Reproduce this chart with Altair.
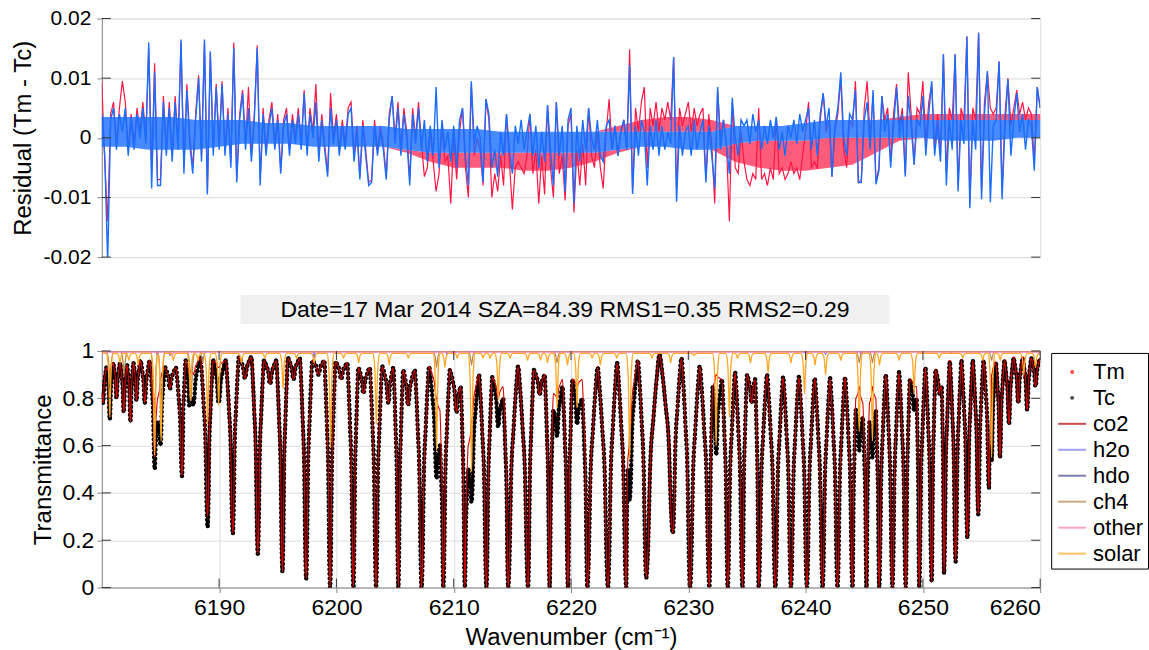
import altair as alt
import pandas as pd

FONT = "Liberation Sans"
X_MIN, X_MAX = 6180, 6260

# ---------------- top panel: residuals (values in units of 1e-3) ----------------
RES_START = 6180.0
RES_STEP = 0.25
res_red_milli = [
    9.3, -4, -14, 4, 6, -1, 5, 9.5, 6, -2,
    4, -1, 5, 1, 6, 0, 15, -6, 12.5, -7,
    -7, 7, -2, 6, -3, 7, -1, 16, -5, 9,
    0, -5, 4, 10.5, -3, 16, -9, 14, -2, 9,
    -1, 9.5, -2, 5, -4, 16, -7, 4, 8, -1,
    8.5, -3, 4, 15.5, -7, 5, -2, 3, 6, -1,
    4, -5.5, 3, 5, -2, 4, 0, 5, -1, 8,
    -2, 5, 1, 9, -3, 4, -1, -6, 7.5, 0,
    4, -2, 3, -1, 5, 6, -3, 2, -6.5, 3,
    -2, -7.5, -7, 3, -2, 2, -1, -6.5, 4, 7,
    0, 6, -2, 5, 1, -7, 5, 0, 6, -1,
    -6.5, -5, 1, -4, -9, -6, 2, -4, -3, -11,
    0, -7, 1, 5, -5, -10, 9, -3, 0, -2,
    -8, 6.5, 3, -10, -6, -9, -3, -8, 4, -4,
    -12, -5, -4, -5, -6, -3, 4, -6, -2, -11,
    -3, -9.5, 5.5, -5, -10, 6, -6, -3, -10.5, 2,
    4, -12.5, -2, -8, -1, -8, 5, -3, -5, 1,
    -5, -8.5, 1, 6.5, -2, 2, -3, 1, 3, -2,
    14.8, -9, 5, 1, 6, 8.5, -5, 5, 2, 6,
    1, 5, 3, 6, 3, 13.5, -9, 5, 2, 4,
    6, 1, 5, 2, 4, 5, -7, 4, -1, -11,
    8, 0, 3, -1, -14, 6, -5, -6, 1, -4,
    -7, -8, -6, -7, 5, -7, -6, -8, -5, -7,
    3.5, -6, -5, -7, -6, -4, -6, -5, -7, -3,
    1, 6, -5, -4, -5, 3, 7.5, 1, 3, -6.5,
    1, 4, 10, -2, -5, 3, 2, 9.5, -7.5, -7,
    5, 9.5, 0, 7, -7.5, -5, 7, 3, 5, -4,
    4, 9, 2, 5, -6, 11, 4, -4.5, 5, 4,
    9.5, -1, 6, 9, -2, 4, -3, 14, -6, 5,
    3, 14, -8, 5, 3, 17, -11, 5, 3, 17.6,
    -9, 6, 11, 5, 4, 5, 12.8, -9, 4, 10,
    2, 5, 8, 4, 6, 3, 5, 4, -4, 8.5,
    5,
]
res_blue_milli = [
    4, -3, -21, 3, 5, -2, 4, 1, 5, -3,
    3, -2, 4, 0, 5, -1, 16, -8.5, 11, -8,
    -8, 6, -3, 5, -4, 6, -2, 16.5, -6, 8,
    -1, -6, 3, 10, -4, 16.5, -9.5, 14.5, -3, 8.5,
    -2, 9, -3, 4, -5, 15, -7.5, 3, 7.5, -2,
    5, -4, 3, 15, -8, 4, -3, 2, 5, -2,
    3, -6, 2, 4, -3, 3, -1, 4, -2, 7.5,
    -3, 4, 0, 6, -4, 3, -2, -6.5, 5, -1,
    3, -3, 2, -2, 4, 5, -4, 1, -7, 2,
    -3, -8, -7.5, 2, -3, 1, -2, -7, 3, 7,
    -1, 5, -3, 4, 0, -8, 4, -1, 5, -2,
    3, -4, 2, -3, 8.5, -5, 3, -2, 1, -4,
    2, -5, 3, 5, -3, -8, 9.5, -1, 2, 0,
    -7.5, 6.5, 4, -5, -2, -6.5, 1, -3, 4, -2,
    -6, 2, -1, 3, -2, 1, 4, -3, 2, -5,
    1, -4, 5.5, -2, -8, 6, -3, 2, -9, 3,
    5, -11, 2, -4, 3, -2, 5, 0, -2, 3,
    -3, -4, 2, 3, -2, 2, -3, 1, 3, -2,
    12.2, -9.4, 2, -3, 3, 1, -8, 2, -2, 3,
    -3, 2, -2, 1, -1, 13.5, -10.7, 2, -3, 1,
    2, -3, 3, -2, 1, 3, -7.5, 2, -3, -8.5,
    8.5, -2, 3, -1, -6, 6.7, 0, -3, 3, 2,
    3, -1, 4, 1, 3, -2, 2, -1, 3, 0,
    3.5, -2, 1, -3, 2, 0, 3, -1, 4, 1,
    3, 5, -2, 3, -3, 4, 7.5, 2, 5, -6.5,
    2, 5, 11, 0, -3, 4, 3, 8, -7.5, -7.5,
    3, 6, -2, 8, -7.8, -5.5, 7, 1, 4, -5,
    2, 8.5, 0, 4, -6.5, 7, 2, -4.5, 3, 2,
    7, -3, 4, 9.5, -3, 2, -4, 14, -8, 3,
    -2, 14, -9, 3, -1, 17, -11.8, 3, -2, 17.6,
    -10.3, 4, 11.2, -10.8, 2, 3, 12.8, -10.3, 2, 9.8,
    -3, 3, 7.5, 1, 4, -2, 3, 2, -5.5, 8.5,
    5,
]
# dense core of each residual trace, every 2 cm-1 (units of 1e-3)
ENV_STEP = 2.0
blue_hi_milli = [3.5, 3.5, 3.5, 3.5, 3, 3, 3, 2.5, 2.5, 2,
                 2, 2, 2, 1.5, 1.5, 1.5, 1.5, 1, 1, 1,
                 1, 1, 1, 1, 1, 1, 1, 2, 2, 2,
                 2.5, 3, 3, 3, 3, 3, 3, 3, 3, 3,
                 3]
blue_lo_milli = [-1.5, -1.5, -2, -2, -2, -1.5, -1, -1, -1, -1.5,
                 -1.5, -1.5, -1.5, -2, -2.5, -2.5, -2.5, -2.5, -2.5, -2.5,
                 -2.5, -2.5, -2, -1.5, -1.5, -2, -2, -1, -0.5, -0.5,
                 -0.5, 0, 0, 0, 0, 0, -0.5, -0.5, -0.5, 0,
                 0]
red_hi_milli = [3.5, 3.5, 3.5, 3.5, 3, 3, 3, 2.5, 2.5, 2,
                2, 2, 2, 1.5, 1.5, 1.5, 1.5, 1, 1, 1,
                1, 1, 2, 3, 3.5, 3.5, 3, 2, 2, 2,
                2.5, 3, 3, 3, 3.5, 4, 4, 4, 4, 4,
                4]
red_lo_milli = [-1.5, -1.5, -2, -2, -2, -1.5, -1, -1, -1, -1.5,
                -1.5, -1.5, -1.5, -2.5, -4, -5, -5, -5, -5.5, -5.5,
                -5, -4, -2.5, -1.5, -1.5, -2, -2, -4, -5, -5.5,
                -5.5, -5, -4.5, -2.5, -0.5, 0, -0.5, -0.5, -0.5, 0,
                0]
res_ticks = [-0.02, -0.01, 0, 0.01, 0.02]

# ---------------- bottom panel: transmittance ----------------
x_ticks = [6190, 6200, 6210, 6220, 6230, 6240, 6250, 6260]
t_ticks = [0, 0.2, 0.4, 0.6, 0.8, 1]
title_text = "Date=17 Mar 2014 SZA=84.39 RMS1=0.35 RMS2=0.29"

# absorption line centres of the measured/calculated spectrum
line_wn = [
    6180.11, 6180.68, 6181.25, 6181.87, 6182.44, 6182.95, 6183.66, 6184.51, 6185.00, 6185.80,
    6186.84, 6187.45, 6187.80, 6189.02, 6189.96, 6191.17, 6192.20, 6193.30, 6194.35, 6195.40,
    6196.34, 6197.42, 6198.47, 6199.46, 6200.40, 6201.45, 6202.30, 6203.38, 6204.43, 6205.28,
    6206.10, 6207.26, 6208.54, 6209.11, 6210.24, 6210.95, 6211.52, 6212.79, 6213.79, 6214.64,
    6216.34, 6217.33, 6218.18, 6218.81, 6219.74, 6220.51, 6221.39, 6223.15, 6224.71, 6225.00,
    6226.41, 6228.68, 6230.15, 6231.80, 6232.37, 6233.36, 6234.62, 6235.40, 6236.00, 6237.42,
    6238.75, 6240.11, 6241.45, 6242.72, 6244.00, 6244.57, 6245.19, 6245.70, 6246.27, 6247.40,
    6248.54, 6249.25, 6249.68, 6250.75, 6251.40, 6251.80, 6252.79, 6253.79, 6254.72, 6255.63,
    6255.86, 6256.57, 6257.34, 6258.13, 6258.89, 6259.60,
]
# minimum transmittance of each line: Tm (red dots) and Tc (black dots)
tm_min = [
    0.79, 0.72, 0.81, 0.75, 0.71, 0.80, 0.79, 0.52, 0.61, 0.85,
    0.48, 0.78, 0.78, 0.27, 0.79, 0.24, 0.89, 0.15, 0.87, 0.075,
    0.89, 0.045, 0.90, 0.0, 0.89, 0.0, 0.83, 0.0, 0.79, 0.0,
    0.78, 0.0, 0.47, 0.0, 0.75, 0.0, 0.37, 0.0, 0.69, 0.0,
    0.0, 0.82, 0.0, 0.65, 0.0, 0.70, 0.0, 0.0, 0.0, 0.38,
    0.045, 0.235, 0.0, 0.0, 0.57, 0.0, 0.0, 0.79, 0.0, 0.0,
    0.0, 0.0, 0.0, 0.0, 0.0, 0.59, 0.0, 0.56, 0.0, 0.0,
    0.0, 0.755, 0.0, 0.03, 0.83, 0.065, 0.115, 0.215, 0.315, 0.425,
    0.545, 0.56, 0.70, 0.79, 0.76, 0.86,
]
tc_min = [
    0.78, 0.71, 0.80, 0.74, 0.70, 0.79, 0.78, 0.50, 0.60, 0.84,
    0.47, 0.77, 0.77, 0.255, 0.78, 0.227, 0.885, 0.143, 0.86, 0.066,
    0.88, 0.038, 0.90, 0.0, 0.88, 0.0, 0.82, 0.0, 0.78, 0.0,
    0.77, 0.0, 0.46, 0.0, 0.74, 0.0, 0.36, 0.0, 0.68, 0.0,
    0.0, 0.815, 0.0, 0.64, 0.0, 0.69, 0.0, 0.0, 0.0, 0.37,
    0.04, 0.23, 0.0, 0.0, 0.56, 0.0, 0.0, 0.78, 0.0, 0.0,
    0.0, 0.0, 0.0, 0.0, 0.0, 0.58, 0.0, 0.55, 0.0, 0.0,
    0.0, 0.745, 0.0, 0.024, 0.82, 0.06, 0.11, 0.21, 0.31, 0.42,
    0.535, 0.55, 0.69, 0.78, 0.75, 0.85,
]
# transmittance between neighbouring lines (arch tops)
peaks = [
    0.93, 0.95, 0.95, 0.94, 0.95, 0.96, 0.96, 0.70, 0.93, 0.93,
    0.96, 0.80, 0.97, 0.96, 0.96, 0.975, 0.975, 0.96, 0.96, 0.97,
    0.97, 0.96, 0.96, 0.955, 0.95, 0.93, 0.93, 0.935, 0.93, 0.92,
    0.92, 0.935, 0.60, 0.92, 0.85, 0.50, 0.90, 0.89, 0.80, 0.935,
    0.92, 0.90, 0.75, 0.85, 0.88, 0.80, 0.93, 0.95, 0.50, 0.96,
    0.985, 0.97, 0.935, 0.85, 0.88, 0.91, 0.90, 0.88, 0.90, 0.89,
    0.89, 0.885, 0.885, 0.89, 0.75, 0.72, 0.70, 0.75, 0.90, 0.91,
    0.88, 0.80, 0.93, 0.92, 0.85, 0.955, 0.96, 0.96, 0.96, 0.60,
    0.95, 0.96, 0.97, 0.97, 0.97,
]
edge_t = [0.82, 0.97]
# CO2-only transmittance (same line positions)
co2_min = [
    0.78, 0.90, 0.80, 0.74, 0.70, 0.79, 0.78, 0.55, 0.88, 0.84,
    0.47, 0.90, 0.90, 0.30, 0.93, 0.227, 0.885, 0.143, 0.86, 0.066,
    0.88, 0.038, 0.90, 0.0, 0.88, 0.0, 0.82, 0.0, 0.78, 0.0,
    0.77, 0.0, 0.80, 0.0, 0.74, 0.0, 0.70, 0.0, 0.80, 0.0,
    0.0, 0.815, 0.0, 0.80, 0.0, 0.85, 0.0, 0.0, 0.0, 0.65,
    0.04, 0.23, 0.0, 0.0, 0.90, 0.0, 0.0, 0.78, 0.0, 0.0,
    0.0, 0.0, 0.0, 0.0, 0.0, 0.85, 0.0, 0.85, 0.0, 0.0,
    0.0, 0.85, 0.0, 0.024, 0.82, 0.06, 0.11, 0.21, 0.31, 0.42,
    0.90, 0.55, 0.69, 0.78, 0.75, 0.85,
]
co2_peaks = [
    0.93, 0.95, 0.95, 0.94, 0.95, 0.96, 0.96, 0.80, 0.93, 0.93,
    0.96, 0.92, 0.97, 0.96, 0.96, 0.975, 0.975, 0.96, 0.96, 0.97,
    0.97, 0.96, 0.96, 0.955, 0.95, 0.93, 0.93, 0.935, 0.93, 0.92,
    0.92, 0.935, 0.75, 0.92, 0.85, 0.60, 0.90, 0.89, 0.85, 0.935,
    0.92, 0.90, 0.82, 0.88, 0.88, 0.88, 0.93, 0.95, 0.55, 0.96,
    0.985, 0.97, 0.935, 0.85, 0.88, 0.91, 0.90, 0.88, 0.90, 0.89,
    0.89, 0.885, 0.885, 0.89, 0.80, 0.78, 0.78, 0.80, 0.90, 0.91,
    0.88, 0.85, 0.93, 0.92, 0.85, 0.955, 0.96, 0.96, 0.96, 0.70,
    0.95, 0.96, 0.97, 0.97, 0.97,
]
co2_edge_t = [0.82, 0.97]

solar_wn = [
    6180.68, 6181.55, 6182.30, 6183.10, 6184.50, 6185.05, 6186.10, 6187.55, 6188.20, 6189.02,
    6189.96, 6191.90, 6193.90, 6195.45, 6196.60, 6198.10, 6199.50, 6200.60, 6201.90, 6203.40,
    6204.50, 6206.13, 6208.54, 6209.25, 6210.30, 6211.52, 6212.50, 6213.10, 6213.80, 6214.80,
    6216.30, 6217.40, 6218.00, 6218.81, 6219.70, 6220.51, 6221.80, 6222.50, 6223.90, 6225.00,
    6226.90, 6228.50, 6230.50, 6232.37, 6233.50, 6234.20, 6235.30, 6236.80, 6238.75, 6239.90,
    6240.80, 6241.70, 6243.00, 6244.57, 6245.70, 6246.30, 6247.97, 6249.25, 6251.40, 6253.40,
    6255.10, 6255.86, 6256.60, 6258.60, 6259.60,
]
solar_min = [
    0.72, 0.95, 0.96, 0.94, 0.56, 0.62, 0.96, 0.79, 0.96, 0.69,
    0.77, 0.95, 0.97, 0.84, 0.97, 0.95, 0.59, 0.97, 0.95, 0.69,
    0.94, 0.97, 0.58, 0.93, 0.97, 0.49, 0.97, 0.97, 0.79, 0.97,
    0.96, 0.96, 0.95, 0.76, 0.94, 0.76, 0.97, 0.94, 0.97, 0.54,
    0.97, 0.95, 0.98, 0.60, 0.72, 0.97, 0.95, 0.91, 0.95, 0.82,
    0.94, 0.90, 0.96, 0.66, 0.62, 0.94, 0.96, 0.82, 0.97, 0.97,
    0.96, 0.55, 0.96, 0.90, 0.93,
]
solar_cont = 0.99

ch4_wn = [6180.70, 6181.90, 6184.50, 6185.05, 6187.62, 6188.60, 6208.54, 6211.52, 6218.81, 6244.57, 6245.70, 6255.86]
ch4_min = [0.86, 0.90, 0.58, 0.64, 0.79, 0.95, 0.93, 0.94, 0.95, 0.95, 0.95, 0.96]
ch4_cont = 0.998

h2o_wn = [6184.70, 6185.80, 6198.10, 6209.40, 6241.70, 6244.70, 6252.40, 6254.80, 6259.90]
h2o_min = [0.985, 0.98, 0.965, 0.985, 0.985, 0.985, 0.99, 0.99, 0.985]
h2o_cont = 1.0

hdo_wn = [6203.30, 6230.00]
hdo_min = [0.995, 0.995]
hdo_cont = 1.0

other_wn = [6186.00, 6210.00, 6240.00]
other_min = [0.985, 0.99, 0.99]
other_cont = 0.995

series_names = ["Tm", "Tc", "co2", "h2o", "hdo", "ch4", "other", "solar"]
series_colors = ["#ff0000", "#000000", "#b00000", "#7878f0", "#4a4a96", "#b5874f", "#ff7eb0", "#ffa726"]
DOT = "M0.07,0A0.07,0.07 0 1,1 -0.07,0A0.07,0.07 0 1,1 0.07,0Z"
LINE = "M-1,0L1,0"
series_shapes = [DOT, DOT, LINE, LINE, LINE, LINE, LINE, LINE]

# line-shape: position as a fraction of the distance to the
# neighbouring arch top, and the fraction of the depth recovered there
WALL_F = [0.12, 0.30, 0.55, 0.80]
WALL_G = [0.10, 0.50, 0.72, 0.90]
NARROW_F = [0.15, 0.35, 0.60, 1.00]
NARROW_G = [0.30, 0.70, 0.90, 1.00]


def band_table(centers, mins, tops, ends):
    n = len(centers)
    mids = [(centers[i] + centers[i + 1]) / 2 for i in range(n - 1)]
    lb = [X_MIN] + mids
    rb = mids + [X_MAX]
    ll = [ends[0]] + list(tops)
    rl = list(tops) + [ends[1]]
    rows = [(X_MIN, ends[0])]
    for i in range(n):
        c, m = centers[i], mins[i]
        for f, g in zip(WALL_F[::-1], WALL_G[::-1]):
            rows.append((c - f * (c - lb[i]), m + g * (ll[i] - m)))
        rows.append((c, m))
        for f, g in zip(WALL_F, WALL_G):
            rows.append((c + f * (rb[i] - c), m + g * (rl[i] - m)))
        rows.append((rb[i], rl[i]))
    df = pd.DataFrame(rows, columns=["wn", "t"]).sort_values("wn")
    return df.drop_duplicates("wn").reset_index(drop=True)


def narrow_table(centers, mins, cont, wmax=0.3):
    n = len(centers)
    rows = [(X_MIN, cont)]
    for i in range(n):
        c, m = centers[i], mins[i]
        wl = min(wmax, (c - centers[i - 1]) / 2) if i > 0 else wmax
        wr = min(wmax, (centers[i + 1] - c) / 2) if i < n - 1 else wmax
        for f, g in zip(NARROW_F[::-1], NARROW_G[::-1]):
            rows.append((c - f * wl, m + g * (cont - m)))
        rows.append((c, m))
        for f, g in zip(NARROW_F, NARROW_G):
            rows.append((c + f * wr, m + g * (cont - m)))
    rows.append((X_MAX, cont))
    df = pd.DataFrame(rows, columns=["wn", "t"])
    df = df[(df.wn >= X_MIN) & (df.wn <= X_MAX)].sort_values("wn")
    return df.drop_duplicates("wn").reset_index(drop=True)


tm_df = band_table(line_wn, tm_min, peaks, edge_t)
tc_df = band_table(line_wn, tc_min, peaks, edge_t)
co2_df = band_table(line_wn, co2_min, co2_peaks, co2_edge_t)
solar_df = narrow_table(solar_wn, solar_min, solar_cont)
ch4_df = narrow_table(ch4_wn, ch4_min, ch4_cont, 0.35)
h2o_df = narrow_table(h2o_wn, h2o_min, h2o_cont, 0.2)
hdo_df = narrow_table(hdo_wn, hdo_min, hdo_cont, 0.2)
other_df = narrow_table(other_wn, other_min, other_cont, 0.3)

W = 940
H_TOP = 239
H_BOT = 237
GAP = 94
TICK_LEN = 9
TICK_C = "#333333"

# ---------------- top chart ----------------
res_df = pd.DataFrame({
    "wn": [RES_START + RES_STEP * i for i in range(len(res_blue_milli))],
    "red": [v / 1000 for v in res_red_milli],
    "blue": [v / 1000 for v in res_blue_milli],
})
env_df = pd.DataFrame({
    "wn": [X_MIN + ENV_STEP * i for i in range(len(blue_hi_milli))],
    "blue": [v / 1000 for v in blue_lo_milli],
    "blue_hi": [v / 1000 for v in blue_hi_milli],
    "red": [v / 1000 for v in red_lo_milli],
    "red_hi": [v / 1000 for v in red_hi_milli],
})
xs_top = alt.Scale(domain=[X_MIN, X_MAX], nice=False, zero=False)
ys_top = alt.Scale(domain=[-0.02, 0.02], nice=False, zero=False)
top_axis = alt.Axis(
    values=res_ticks, title="Residual (Tm - Tc)", labelFontSize=21, titleFontSize=24,
    titleFontWeight="normal", labelPadding=6, titlePadding=8,
    labelExpr="datum.value == 0 ? '0' : (datum.value < 0 ? '-' : '') + format(abs(datum.value), '.2f')",
)
XT = alt.X("wn:Q", scale=xs_top, axis=None)
RED_C = "#ff1744"
BLUE_C = "#1a6dff"

# red core only where it reaches beyond the blue core
red_core_lo = alt.Chart(env_df).mark_area(color=RED_C, opacity=0.7).encode(
    x=XT, y=alt.Y("red:Q", scale=ys_top, axis=top_axis), y2="blue:Q")
red_core_hi = alt.Chart(env_df).mark_area(color=RED_C, opacity=0.7).encode(
    x=XT, y=alt.Y("blue_hi:Q", scale=ys_top, axis=top_axis), y2="red_hi:Q")
red_line = alt.Chart(res_df).mark_line(color=RED_C, strokeWidth=1.2, clip=True).encode(
    x=XT, y=alt.Y("red:Q", scale=ys_top, axis=top_axis))
blue_core = alt.Chart(env_df).mark_area(color=BLUE_C, opacity=0.8).encode(
    x=XT, y=alt.Y("blue:Q", scale=ys_top, axis=top_axis), y2="blue_hi:Q")
blue_line = alt.Chart(res_df).mark_line(color=BLUE_C, strokeWidth=1.4, clip=True).encode(
    x=XT, y=alt.Y("blue:Q", scale=ys_top, axis=top_axis))
rt_df = pd.DataFrame({"blue": res_ticks})
rt_left = alt.Chart(rt_df).mark_rule(color=TICK_C).encode(
    y=alt.Y("blue:Q", scale=ys_top, axis=top_axis), x=alt.value(0), x2=alt.value(TICK_LEN))
rt_right = alt.Chart(rt_df).mark_rule(color=TICK_C).encode(
    y=alt.Y("blue:Q", scale=ys_top, axis=top_axis), x=alt.value(W - TICK_LEN), x2=alt.value(W))

top = alt.layer(red_core_lo, red_core_hi, red_line, blue_core, blue_line, rt_left, rt_right).properties(
    width=W, height=H_TOP)

# ---------------- bottom chart ----------------
xs = alt.Scale(domain=[X_MIN, X_MAX], nice=False, zero=False)
ys = alt.Scale(domain=[0, 1], nice=False, zero=False)
x_axis = alt.Axis(values=x_ticks, format="d", title="Wavenumber (cm⁻¹)", labelFontSize=23,
                  titleFontSize=24, titleFontWeight="normal", labelPadding=4, titlePadding=6)
y_axis = alt.Axis(values=t_ticks, format="~g", title="Transmittance", labelFontSize=23,
                  titleFontSize=24, titleFontWeight="normal", labelPadding=3, titlePadding=6)
X = alt.X("wn:Q", scale=xs, axis=x_axis)
Y = alt.Y("t:Q", scale=ys, axis=y_axis)


def curve(df, color, width, **kw):
    return alt.Chart(df).mark_line(color=color, strokeWidth=width, interpolate="monotone",
                                   clip=True, **kw).encode(x=X, y=Y)


tm_dots = curve(tm_df, "#ff0000", 3.6, strokeDash=[0.1, 4.4], strokeCap="round", strokeDashOffset=2.2)
tc_core = curve(tc_df, "#000000", 1.6)
tc_dots = curve(tc_df, "#000000", 4.4, strokeDash=[0.1, 4.4], strokeCap="round")
co2_line = curve(co2_df, "#d00000", 1.1)
h2o_line = curve(h2o_df, series_colors[3], 1.2)
hdo_line = curve(hdo_df, series_colors[4], 1.2)
ch4_line = curve(ch4_df, series_colors[5], 1.2)
other_line = curve(other_df, series_colors[6], 1.4)
solar_line = curve(solar_df, series_colors[7], 1.3)

xt_df = pd.DataFrame({"wn": x_ticks})
yt_df = pd.DataFrame({"t": t_ticks})
xt_bot = alt.Chart(xt_df).mark_rule(color=TICK_C).encode(x=X, y=alt.value(H_BOT - TICK_LEN), y2=alt.value(H_BOT))
xt_top = alt.Chart(xt_df).mark_rule(color=TICK_C).encode(x=X, y=alt.value(0), y2=alt.value(TICK_LEN))
yt_left = alt.Chart(yt_df).mark_rule(color=TICK_C).encode(y=Y, x=alt.value(0), x2=alt.value(TICK_LEN))
yt_right = alt.Chart(yt_df).mark_rule(color=TICK_C).encode(y=Y, x=alt.value(W - TICK_LEN), x2=alt.value(W))

# legend of a vconcat is placed relative to the first panel's origin
legend = alt.Legend(
    orient="none", legendX=951, legendY=H_TOP + GAP + 2, title=None,
    labelFont=FONT, labelFontSize=22, labelColor="black", labelOffset=6, labelLimit=300,
    padding=4, symbolOffset=2, rowPadding=0, symbolSize=784, symbolStrokeWidth=2,
    strokeColor="black", fillColor="white",
)
legend_df = pd.DataFrame({"series": series_names, "wn": [None] * 8, "t": [None] * 8})
legend_layer = alt.Chart(legend_df).mark_point(filled=False, size=784, strokeWidth=2, clip=True).encode(
    x=X, y=Y,
    color=alt.Color("series:N", scale=alt.Scale(domain=series_names, range=series_colors), legend=legend),
    shape=alt.Shape("series:N", scale=alt.Scale(domain=series_names, range=series_shapes), legend=legend),
)

title_df = pd.DataFrame({"label": [title_text]})
title_box = alt.Chart(title_df).mark_rect(color="#f0f0f0").encode(
    x=alt.value(139), x2=alt.value(789), y=alt.value(-56), y2=alt.value(-27))
title_txt = alt.Chart(title_df).mark_text(font=FONT, fontSize=23, color="black", align="center",
                                          baseline="middle").encode(
    x=alt.value(464), y=alt.value(-41.5), text="label:N")

bottom = alt.layer(
    tm_dots, tc_core, tc_dots, co2_line, h2o_line, hdo_line, ch4_line, other_line, solar_line,
    xt_bot, xt_top, yt_left, yt_right, legend_layer, title_box, title_txt,
).properties(width=W, height=H_BOT)

chart = alt.vconcat(top, bottom, spacing=GAP, bounds="flush").properties(
    padding={"left": 10, "top": 6, "right": 0, "bottom": 0}
).configure_view(stroke="black", strokeWidth=1.2).configure_axis(
    grid=False, domain=False, ticks=False, tickSize=0, labelFont=FONT, titleFont=FONT,
    labelColor="black", titleColor="black", titleFontWeight="normal",
).configure(background="white")

chart.save("out.html", embed_options={"renderer": "svg", "actions": False})
